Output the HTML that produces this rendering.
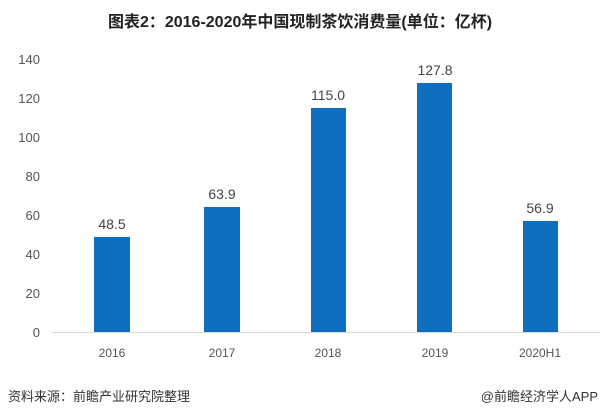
<!DOCTYPE html>
<html><head><meta charset="utf-8"><style>
body{margin:0;width:600px;height:420px;background:#fff;overflow:hidden}
svg{display:block}
text{font-family:"Liberation Sans","Noto Sans CJK SC",sans-serif}
</style></head><body>
<svg width="600" height="420" viewBox="0 0 600 420">
<text x="300" y="27" text-anchor="middle" font-size="16" font-weight="bold" fill="#222">图表2：2016-2020年中国现制茶饮消费量(单位：亿杯)</text>
<g font-size="13" fill="#555" text-anchor="end">
<text x="40" y="337">0</text><text x="40" y="298">20</text><text x="40" y="259">40</text>
<text x="40" y="220">60</text><text x="40" y="181">80</text><text x="40" y="142">100</text>
<text x="40" y="103">120</text><text x="40" y="64">140</text>
</g>
<line x1="52" y1="332.5" x2="600" y2="332.5" stroke="#d9d9d9"/>
<g fill="#0e6fc1">
<rect x="94" y="237" width="36" height="95"/>
<rect x="204" y="207" width="36" height="125"/>
<rect x="311" y="108" width="35" height="224"/>
<rect x="417" y="83" width="35" height="249"/>
<rect x="523" y="221" width="35" height="111"/>
</g>
<g font-size="14" fill="#444" text-anchor="middle">
<text x="112" y="229">48.5</text><text x="222" y="199">63.9</text>
<text x="328" y="100">115.0</text><text x="435" y="75">127.8</text>
<text x="540" y="213">56.9</text>
</g>
<g font-size="12" fill="#555" text-anchor="middle">
<text x="112" y="357">2016</text><text x="222" y="357">2017</text>
<text x="328" y="357">2018</text><text x="435" y="357">2019</text>
<text x="540" y="357">2020H1</text>
</g>
<text x="8" y="401" font-size="13" fill="#333">资料来源：前瞻产业研究院整理</text>
<text x="598" y="401" font-size="13" fill="#333" text-anchor="end">@前瞻经济学人APP</text>
</svg>
</body></html>
